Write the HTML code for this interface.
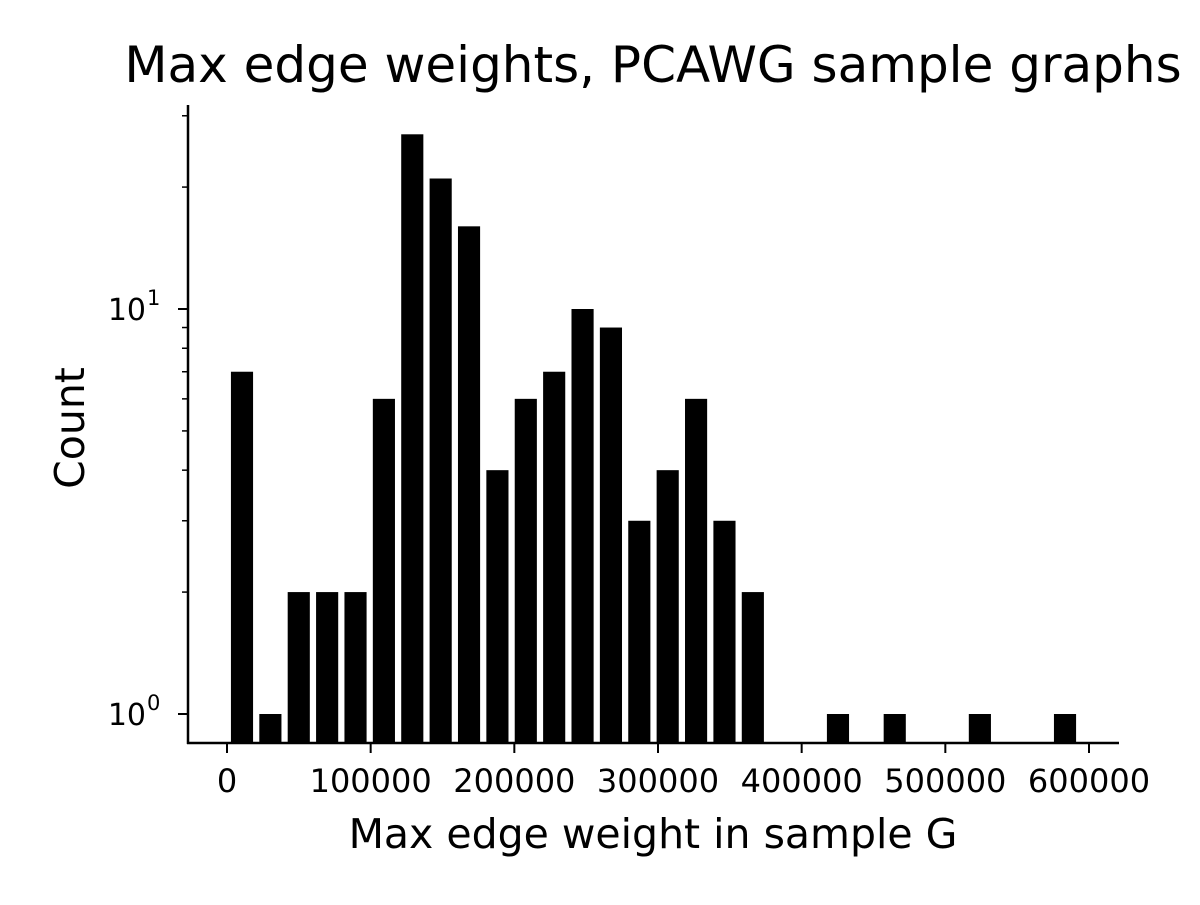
<!DOCTYPE html>
<html><head><meta charset="utf-8"><style>
body{margin:0;background:#fff}
text{font-family:"DejaVu Sans","Liberation Sans",sans-serif;fill:#000}
</style></head><body>
<svg id="chart" width="1200" height="900" viewBox="0 0 1200 900" xmlns="http://www.w3.org/2000/svg">
<text x="653" y="82" font-size="50" text-anchor="middle">Max edge weights, PCAWG sample graphs</text>
<text x="653" y="848" font-size="41" text-anchor="middle">Max edge weight in sample G</text>
<text transform="translate(84,428) rotate(-90)" font-size="41" text-anchor="middle">Count</text>
<g id="bars"></g>
<g id="axes"></g>
</svg>
<script>
const counts=[7,1,2,2,2,6,27,21,16,4,6,7,10,9,3,4,6,3,2,0,0,1,0,1,0,0,1,0,0,1];
const binStart=10441;
const binWidth=19754;
const xTicks=[0,100000,200000,300000,400000,500000,600000];
const yMajor=[1,10];
const yMinor=[2,3,4,5,6,7,8,9,20,30];

const NS="http://www.w3.org/2000/svg";
const X0=227,XS=862/600000;
const xs=v=>X0+v*XS;
const ys=v=>714-405*Math.log10(v);
const axLeft=188,axBottom=743,axTop=105,axRight=1119;
function mk(tag,attrs,parent){const e=document.createElementNS(NS,tag);for(const k in attrs)e.setAttribute(k,attrs[k]);parent.appendChild(e);return e;}
const bars=document.getElementById('bars'),axes=document.getElementById('axes');
counts.forEach((c,i)=>{
  if(c<=0)return;
  const cx=binStart+i*binWidth;
  const w=binWidth*XS*0.78;
  const y=ys(c);
  const r=mk('rect',{x:xs(cx)-w/2,y:y,width:w,height:axBottom-y,fill:'#000'},bars);
  
  
});
let l=mk('line',{x1:axLeft,y1:axTop,x2:axLeft,y2:axBottom+1,stroke:'#000','stroke-width':2.5},axes);


l=mk('line',{x1:axLeft-1,y1:axBottom,x2:axRight,y2:axBottom,stroke:'#000','stroke-width':2.5},axes);


xTicks.forEach(t=>{
  const x=xs(t);
  mk('line',{x1:x,y1:axBottom,x2:x,y2:axBottom+10,stroke:'#000','stroke-width':2},axes);
  const tx=mk('text',{x:x,y:axBottom+49,'font-size':32,'text-anchor':'middle'},axes);
  tx.textContent=String(t);
  
  
});
yMajor.forEach(t=>{
  const y=ys(t);
  mk('line',{x1:axLeft-10,y1:y,x2:axLeft,y2:y,stroke:'#000','stroke-width':2},axes);
  const tx=mk('text',{x:axLeft-42,y:y+11,'font-size':30,'text-anchor':'end'},axes);
  tx.textContent='10';
  
  
  const sp=mk('text',{x:axLeft-41,y:y-4,'font-size':21,'text-anchor':'start'},axes);
  sp.textContent=String(Math.round(Math.log10(t)));
  
  
});
yMinor.forEach(t=>{
  const y=ys(t);
  mk('line',{x1:axLeft-6,y1:y,x2:axLeft,y2:y,stroke:'#000','stroke-width':1.5},axes);
});
</script>
</body></html>
